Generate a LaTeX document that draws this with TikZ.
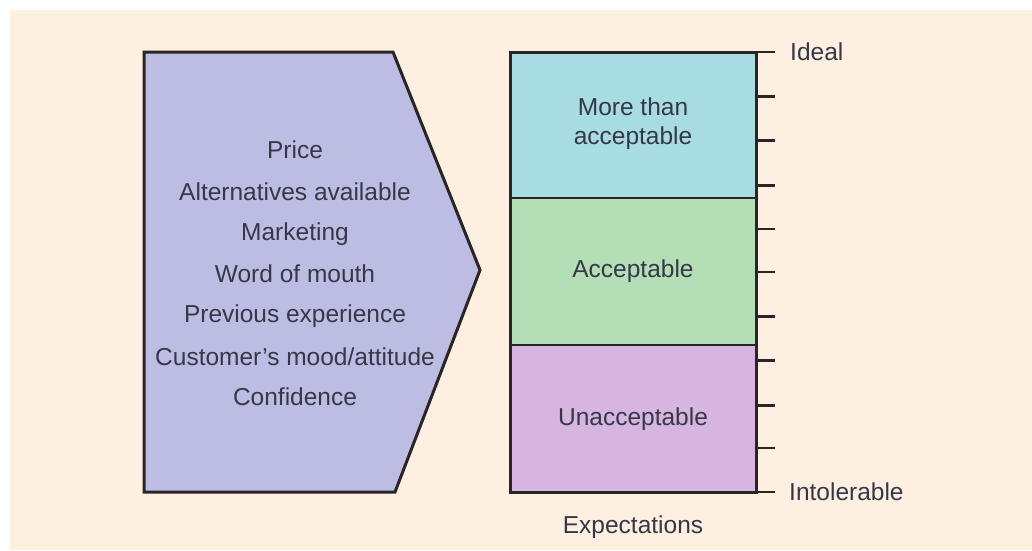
\documentclass[tikz,border=0pt]{standalone}
\usepackage{fontspec}
\setmainfont{Liberation Sans}
\definecolor{bgcream}{HTML}{FDF0E1}
\definecolor{arrowfill}{HTML}{BDBDE4}
\definecolor{topfill}{HTML}{A7DCE2}
\definecolor{midfill}{HTML}{B4DFB6}
\definecolor{lowfill}{HTML}{D6B6E0}
\definecolor{inkline}{HTML}{2A2427}
\definecolor{inktext}{HTML}{363848}
\tikzset{
  lbl/.style={font=\fontsize{24.5}{29}\selectfont, text=inktext, inner sep=0pt, align=center},
  thicktick/.style={draw=inkline, line width=3pt},
  thintick/.style={draw=inkline, line width=1.5pt},
  band/.style={draw=inkline, line width=1.5pt},
}
\begin{document}
\begin{tikzpicture}[x=1pt,y=-1pt]
\useasboundingbox (0,0) rectangle (1032,550);
\fill[white] (0,0) rectangle (1032,550);
\fill[bgcream] (10,10) rectangle (1032,550);
% arrow shape
\draw[fill=arrowfill, draw=inkline, line width=3pt, line join=miter]
  (144,52) -- (393,52) -- (480,270) -- (395,492) -- (144,492) -- cycle;
\node[lbl] (t1) at (295,150) {Price};
\node[lbl] (t2) at (295,192) {Alternatives available};
\node[lbl] (t3) at (295,234) {Marketing};
\node[lbl] (t4) at (295,274) {Word of mouth};
\node[lbl] (t5) at (295,316) {Previous experience};
\node[lbl] (t6) at (295,357) {Customer’s mood/attitude};
\node[lbl] (t7) at (295,397) {Confidence};
% bands
\fill[topfill] (510,52) rectangle (756,198);
\fill[midfill] (510,198) rectangle (756,345);
\fill[lowfill] (510,345) rectangle (756,492);
\draw[band] (510,198) -- (756,198);
\draw[band] (510,345) -- (756,345);
\draw[draw=inkline, line width=3pt] (510,52) rectangle (756,492);
\node[lbl] (b1) at (633,124) {More than\\acceptable};
\node[lbl] (b2) at (633,271) {Acceptable};
\node[lbl] (b3) at (633,419) {Unacceptable};
% ticks
\draw[thintick] (756,52) -- (775,52);
\draw[thicktick] (756,96) -- (775,96);
\draw[thicktick] (756,140) -- (775,140);
\draw[thicktick] (756,185) -- (775,185);
\draw[thintick] (756,229) -- (775,229);
\draw[thintick] (756,272) -- (775,272);
\draw[thicktick] (756,316) -- (775,316);
\draw[thicktick] (756,360) -- (775,360);
\draw[thicktick] (756,405) -- (775,405);
\draw[thintick] (756,448) -- (775,448);
\draw[thintick] (756,492) -- (775,492);
\node[lbl, anchor=west] (ideal) at (790,52) {Ideal};
\node[lbl, anchor=west] (intol) at (789,492) {Intolerable};
\node[lbl] (expect) at (633,527) {Expectations};
\end{tikzpicture}
\end{document}
